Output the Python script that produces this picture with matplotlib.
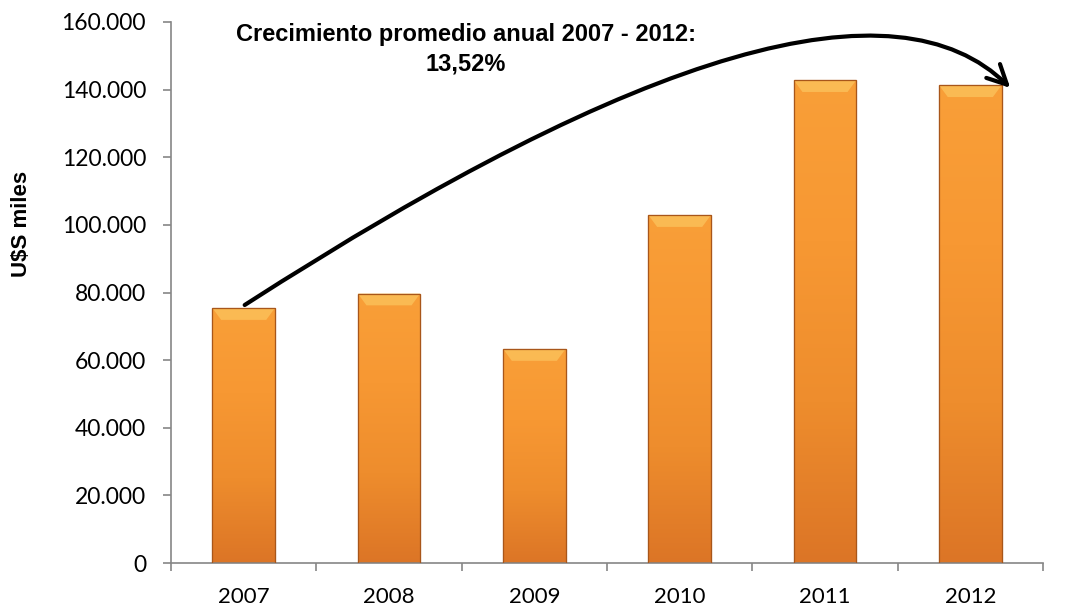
import matplotlib
matplotlib.use("Agg")
import matplotlib.pyplot as plt
import numpy as np
from matplotlib.path import Path
from matplotlib.patches import FancyArrowPatch
from matplotlib.colors import LinearSegmentedColormap

years = ["2007", "2008", "2009", "2010", "2011", "2012"]
values = [75400, 79700, 63300, 102900, 142800, 141300]
y_ticks = [0, 20000, 40000, 60000, 80000, 100000, 120000, 140000, 160000]
y_tick_labels = ["0", "20.000", "40.000", "60.000", "80.000", "100.000", "120.000", "140.000", "160.000"]
title_text = "Crecimiento promedio anual 2007 - 2012:\n13,52%"
y_label = "U$S miles"

fig = plt.figure(figsize=(10.68, 6.07), dpi=100)
ax = fig.add_axes([171/1068, 44/607, 872/1068, 541/607])

x = np.arange(len(years))
bars = ax.bar(x, values, width=0.43, color="#F39530", edgecolor="#C0651C", linewidth=0.8, zorder=2)

cmap = LinearSegmentedColormap.from_list("o", ["#DC7526", "#EE8D2D", "#F79833", "#F99F38"])
for b in bars:
    x0, y0 = b.get_x(), b.get_y()
    w, h = b.get_width(), b.get_height()
    grad = np.linspace(0, 1, 256).reshape(-1, 1)
    im = ax.imshow(grad, cmap=cmap, aspect="auto", origin="lower",
                   extent=[x0, x0 + w, y0, y0 + h], zorder=2.5)
    im.set_clip_path(b)
    # top bevel highlight
    ax.fill([x0, x0 + w, x0 + w - 0.06, x0 + 0.06], [y0 + h, y0 + h, y0 + h - 3500, y0 + h - 3500],
            color="#FCC660", alpha=0.7, zorder=2.6, linewidth=0)
    ax.add_patch(plt.Rectangle((x0, y0), w, h, fill=False, edgecolor="#A8561A", linewidth=0.9, zorder=2.7))

ax.set_xlim(-0.5, 5.5)
ax.set_ylim(0, 160000)
ax.set_yticks(y_ticks)
ax.set_yticklabels(y_tick_labels, fontsize=16.5, family="Lato")
ax.set_xticks(x)
ax.set_xticklabels(years, fontsize=16, family="Lato")
ax.set_xticks(np.arange(-0.5, 6, 1), minor=True)
ax.tick_params(axis="x", which="major", length=0, pad=17)
ax.tick_params(axis="x", which="minor", length=6, width=1.2, color="#868686", direction="out")
ax.tick_params(axis="y", which="major", length=6, width=1.2, color="#868686", direction="out", pad=12)
for s in ["top", "right"]:
    ax.spines[s].set_visible(False)
for s in ["left", "bottom"]:
    ax.spines[s].set_color("#868686")
    ax.spines[s].set_linewidth(1.2)

fig.text(22/1068, 1 - 224/607, y_label, rotation=90, ha="center", va="center",
         fontsize=16, fontweight="bold", family="Liberation Sans")

fig.text(466/1068, 1 - 49/607, title_text, ha="center", va="center", fontsize=17,
         fontweight="bold", family="Liberation Sans", linespacing=1.35)

# curved arrow from 2007 bar to 2012 bar
start = (0.007, 76300)
ctrl = (4.11, 190000)
end = (5.275, 140500)
path = Path([start, ctrl, end], [Path.MOVETO, Path.CURVE3, Path.CURVE3])
arrow = FancyArrowPatch(path=path, arrowstyle="->,head_length=14,head_width=7",
                        color="black", linewidth=3, zorder=5, clip_on=False,
                        transform=ax.transData)
ax.add_patch(arrow)

fig.savefig("out.png", dpi=100)
